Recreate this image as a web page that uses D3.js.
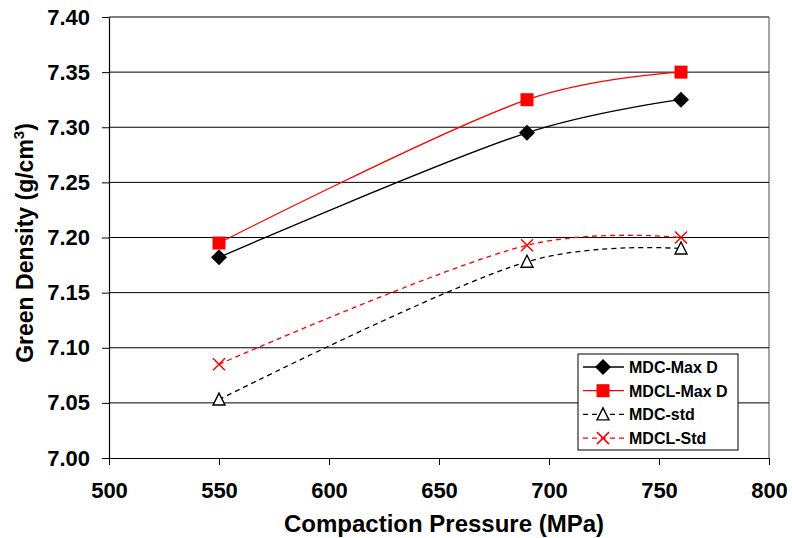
<!DOCTYPE html>
<html>
<head>
<meta charset="utf-8">
<script src="https://cdn.jsdelivr.net/npm/d3@7"></script>
<style>
  body { margin: 0; background: #fff; }
  svg { display: block; font-family: "Liberation Sans", Arial, sans-serif; }
</style>
</head>
<body>
<svg id="chart" width="792" height="538"></svg>
<script>
// pressures (MPa)
const pressures = [550, 690, 760];
// green density values per series
const mdcMaxD = [7.182, 7.295, 7.325];
const mdclMaxD = [7.195, 7.325, 7.350];
const mdcStd = [7.053, 7.178, 7.190];
const mdclStd = [7.085, 7.193, 7.200];
const xTicks = [500, 550, 600, 650, 700, 750, 800];
const yTicks = [7.00, 7.05, 7.10, 7.15, 7.20, 7.25, 7.30, 7.35, 7.40];

const series = [
  { name: "MDC-Max D", values: mdcMaxD, color: "#000", dash: null, marker: "diamond" },
  { name: "MDCL-Max D", values: mdclMaxD, color: "#ff0000", dash: null, marker: "square" },
  { name: "MDC-std", values: mdcStd, color: "#000", dash: "5,4", marker: "triangle" },
  { name: "MDCL-Std", values: mdclStd, color: "#ff0000", dash: "5,4", marker: "cross" }
];

const svg = d3.select("#chart");
const plotLeft = 109, plotRight = 769, plotTop = 17, plotBottom = 458;

const x = d3.scaleLinear().domain([500, 800]).range([plotLeft, plotRight]);
const y = d3.scaleLinear().domain([7.0, 7.4]).range([plotBottom, plotTop]);

// right border of plot area
svg.append("line")
  .attr("x1", plotRight).attr("x2", plotRight).attr("y1", plotTop).attr("y2", plotBottom)
  .attr("stroke", "#888").attr("stroke-width", 1.5);

// gridlines
svg.append("g").selectAll("line")
  .data(yTicks.slice(1))
  .enter().append("line")
  .attr("x1", plotLeft).attr("x2", plotRight)
  .attr("y1", d => y(d)).attr("y2", d => y(d))
  .attr("stroke", "#000").attr("stroke-width", 1);

// axes
const xAxis = svg.append("g")
  .attr("transform", `translate(0,${plotBottom})`)
  .call(d3.axisBottom(x).tickValues(xTicks).tickSize(7).tickPadding(17).tickSizeOuter(0));
const yAxis = svg.append("g")
  .attr("transform", `translate(${plotLeft},0)`)
  .call(d3.axisLeft(y).tickValues(yTicks).tickFormat(d3.format(".2f")).tickSize(7).tickPadding(12).tickSizeOuter(0));

[xAxis, yAxis].forEach(a => {
  a.select(".domain").attr("stroke", "#000").attr("stroke-width", 1.2);
  a.selectAll(".tick line").attr("stroke", "#000");
  a.selectAll("text")
    .attr("fill", "#000")
    .style("font-size", "22px")
    .style("font-weight", "bold")
    .style("font-family", "'Liberation Sans', Arial, sans-serif");
});

// axis titles
svg.append("text")
  .attr("x", (plotLeft + plotRight) / 2 + 5).attr("y", 532)
  .attr("text-anchor", "middle")
  .style("font-size", "24px").style("font-weight", "bold")
  .text("Compaction Pressure (MPa)");

const yTitle = svg.append("text")
  .attr("transform", `translate(33,243) rotate(-90)`)
  .attr("text-anchor", "middle")
  .style("font-size", "23px").style("font-weight", "bold");
yTitle.append("tspan").text("Green Density (g/cm");
yTitle.append("tspan").attr("dy", -9).style("font-size", "15px").text("3");
yTitle.append("tspan").attr("dy", 9).text(")");

// markers
function drawMarker(g, type, color) {
  if (type === "diamond") {
    g.append("path").attr("d", "M0,-8L8,0L0,8L-8,0Z").attr("fill", "#000");
  } else if (type === "square") {
    g.append("rect").attr("x", -6.5).attr("y", -6.5).attr("width", 13).attr("height", 13).attr("fill", color);
  } else if (type === "triangle") {
    g.append("path").attr("d", "M0,-6.5L6,5.5L-6,5.5Z").attr("fill", "#fff")
      .attr("stroke", "#000").attr("stroke-width", 1.4);
  } else if (type === "cross") {
    g.append("path").attr("d", "M-6,-6L6,6M-6,6L6,-6").attr("stroke", color)
      .attr("stroke-width", 1.5).attr("fill", "none");
  }
}

// excel-like smoothing
const line = d3.line()
  .x((d, i) => x(pressures[i]))
  .y(d => y(d))
  .curve(d3.curveCatmullRom.alpha(0.25));

series.forEach(s => {
  svg.append("path")
    .datum(s.values)
    .attr("d", line)
    .attr("fill", "none")
    .attr("stroke", s.color)
    .attr("stroke-width", 1.3)
    .attr("stroke-dasharray", s.dash);
  s.values.forEach((v, i) => {
    const g = svg.append("g").attr("transform", `translate(${x(pressures[i])},${y(v)})`);
    drawMarker(g, s.marker, s.color);
  });
});

// legend
const legend = svg.append("g");
legend.append("rect")
  .attr("x", 578).attr("y", 354).attr("width", 160).attr("height", 96)
  .attr("fill", "#fff").attr("stroke", "#000").attr("stroke-width", 1);
series.forEach((s, i) => {
  const ly = 367 + i * 23.7;
  legend.append("line")
    .attr("x1", 583).attr("x2", 624).attr("y1", ly).attr("y2", ly)
    .attr("stroke", s.color).attr("stroke-width", 1.3)
    .attr("stroke-dasharray", s.dash);
  drawMarker(legend.append("g").attr("transform", `translate(603,${ly})`), s.marker, s.color);
  legend.append("text")
    .attr("x", 629).attr("y", ly + 6)
    .style("font-size", "16px").style("font-weight", "bold")
    .text(s.name);
});
</script>
</body>
</html>
